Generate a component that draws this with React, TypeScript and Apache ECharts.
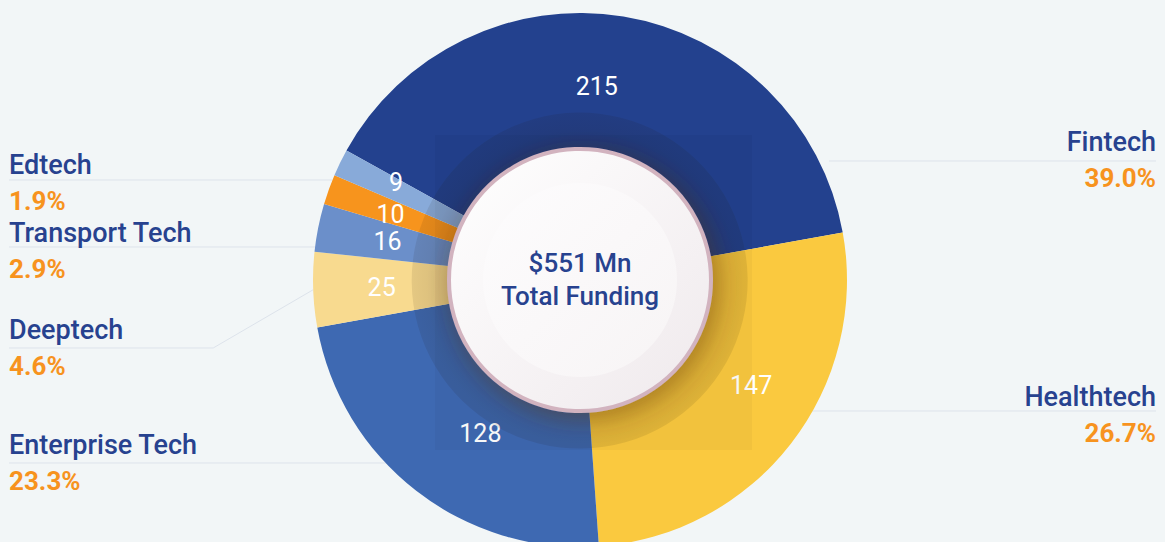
import React, { useEffect, useRef } from 'react';
import * as echarts from 'echarts';

// ---- data ----
const CATEGORIES = ['Fintech', 'Healthtech', 'Enterprise Tech', 'Deeptech', 'Transport Tech', 'Others', 'Edtech'];
const VALUES = [215, 147, 128, 25, 16, 10, 9];
const PERCENT_LABELS = ['39.0%', '26.7%', '23.3%', '4.6%', '2.9%', '', '1.9%'];
const COLORS = ['#23418e', '#fac93f', '#3e69b2', '#f8da8f', '#6b8fca', '#f7941d', '#88aad9'];
const CENTER_TITLE = '$551 Mn';
const CENTER_SUBTITLE = 'Total Funding';

// ---- layout ----
const W = 1165;
const H = 542;
const CX = 580;
const CY = 280;
const R_OUT = 267;
const R_IN = 130;
const START_ANGLE = 151;
// labelY: middle of the two-line label; lineY: horizontal leader line
const LABEL_LAYOUT: any[] = [
  { labelY: 160, lineY: 161, r: 276 },
  { labelY: 415, lineY: 411, r: 265 },
  { labelY: 463, lineY: 463, r: 204 },
  { labelY: 348, lineY: 348, bend: 100 },
  { labelY: 251, lineY: 247, r: 242 },
  null,
  { labelY: 183, lineY: 180, r: 267 },
];
const VALUE_LABEL_SHIFT = [
  [-16, 5],
  [12, -18],
  [24, -6],
  [3, 0],
  [5, 1],
  [0, 3],
  [-3, -9],
];

export default function App() {
  const ref = useRef<HTMLDivElement>(null);

  useEffect(() => {
    document.body.style.margin = '0';
    if (!ref.current) return;
    const chart = echarts.init(ref.current, undefined, { renderer: 'svg' });

    const data = CATEGORIES.map((name, i) => ({
      name,
      value: VALUES[i],
      itemStyle: { color: COLORS[i] },
    }));

    const labelData = CATEGORIES.map((name, i) => ({
      name,
      value: VALUES[i],
      itemStyle: { color: 'rgba(0,0,0,0)' },
      label: { show: !!LABEL_LAYOUT[i] },
      labelLine: { show: !!LABEL_LAYOUT[i] },
    }));

    const option: any = {
      animation: false,
      backgroundColor: '#f2f6f7',
      series: [
        {
          type: 'pie',
          z: 1,
          silent: true,
          center: [CX, CY],
          radius: [R_IN, R_OUT],
          startAngle: START_ANGLE,
          clockwise: true,
          avoidLabelOverlap: false,
          itemStyle: { borderWidth: 0 },
          label: {
            show: true,
            position: 'outside',
            alignTo: 'edge',
            edgeDistance: 9,
            fontFamily: 'Roboto',
            formatter: (p: any) => `{n|${p.name}}\n{p|${PERCENT_LABELS[p.dataIndex]}}`,
            rich: {
              n: { fontSize: 27, fontWeight: 500, color: '#27428f', lineHeight: 36, fontFamily: 'Roboto' },
              p: { fontSize: 26, fontWeight: 700, color: '#f7931e', lineHeight: 36, fontFamily: 'Roboto' },
            },
          },
          labelLine: {
            show: true,
            length: 10,
            length2: 10,
            lineStyle: { color: '#dde3eb', width: 1 },
          },
          labelLayout: (params: any) => {
            const cfg = LABEL_LAYOUT[params.dataIndex];
            if (!cfg || !params.labelLinePoints) return {};
            const isLeft = params.labelRect.x < CX;
            const pts = params.labelLinePoints;
            const endX = isLeft ? params.labelRect.x : params.labelRect.x + params.labelRect.width;
            let newPts;
            if (cfg.bend != null) {
              newPts = [pts[0], [pts[0][0] + (isLeft ? -cfg.bend : cfg.bend), cfg.lineY], [endX, cfg.lineY]];
            } else {
              const dy = cfg.lineY - CY;
              const dx = Math.sqrt(Math.max(cfg.r * cfg.r - dy * dy, 0));
              const sx = isLeft ? CX - dx : CX + dx;
              newPts = [[sx, cfg.lineY], [sx, cfg.lineY], [endX, cfg.lineY]];
            }
            return { y: cfg.labelY, labelLinePoints: newPts };
          },
          emphasis: { disabled: true },
          data: labelData,
        },
        {
          type: 'pie',
          z: 2,
          silent: true,
          center: [CX, CY],
          radius: [R_IN, R_OUT],
          startAngle: START_ANGLE,
          clockwise: true,
          avoidLabelOverlap: false,
          minShowLabelAngle: 0,
          itemStyle: { borderWidth: 0 },
          label: {
            show: true,
            position: 'inside',
            formatter: '{c}',
            color: '#ffffff',
            fontSize: 25,
            lineHeight: 22,
            fontWeight: 400,
            fontFamily: 'Roboto',
            overflow: 'none',
          },
          labelLayout: (params: any) => {
            const s = VALUE_LABEL_SHIFT[params.dataIndex];
            return { hideOverlap: false, dx: s[0], dy: s[1] };
          },
          labelLine: { show: false },
          emphasis: { disabled: true },
          data,
        },
        {
          type: 'pie',
          z: 3,
          silent: true,
          center: [CX, CY],
          radius: [R_IN, 168],
          startAngle: START_ANGLE,
          label: { show: false },
          labelLine: { show: false },
          emphasis: { disabled: true },
          data: [
            {
              value: 1,
              name: 'shade',
              itemStyle: {
                borderWidth: 0,
                color: new echarts.graphic.RadialGradient(0.5, 0.5, 0.5, [
                  { offset: 0.77, color: 'rgba(30,15,0,0.2)' },
                  { offset: 0.9, color: 'rgba(30,15,0,0.12)' },
                  { offset: 1, color: 'rgba(30,15,0,0.09)' },
                ]),
              },
            },
          ],
        },
      ],
      graphic: [
        {
          type: 'rect',
          z: 5,
          silent: true,
          shape: { x: 435, y: 135, width: 317, height: 315 },
          style: { fill: 'rgba(0,0,0,0.03)' },
        },
        {
          type: 'circle',
          z: 20,
          silent: true,
          shape: { cx: CX, cy: CY, r: 131 },
          style: {
            fill: new echarts.graphic.LinearGradient(0, 0, 1, 1, [
              { offset: 0, color: '#ffffff' },
              { offset: 1, color: '#efe9ec' },
            ]),
            stroke: '#d2b3bf',
            lineWidth: 4,
            shadowBlur: 22,
            shadowColor: 'rgba(120,60,0,0.3)',
            shadowOffsetX: 5,
            shadowOffsetY: 6,
          },
        },
        {
          type: 'circle',
          z: 21,
          silent: true,
          shape: { cx: CX, cy: CY, r: 97 },
          style: {
            fill: new echarts.graphic.LinearGradient(0, 0, 1, 1, [
              { offset: 0, color: '#fdfcfd' },
              { offset: 1, color: '#f7f4f5' },
            ]),
          },
        },
        {
          type: 'text',
          z: 22,
          silent: true,
          style: {
            text: CENTER_TITLE,
            x: CX,
            y: 263,
            align: 'center',
            verticalAlign: 'middle',
            fill: '#27428f',
            fontSize: 26,
            fontWeight: 500,
            fontFamily: 'Roboto',
          },
        },
        {
          type: 'text',
          z: 22,
          silent: true,
          style: {
            text: CENTER_SUBTITLE,
            x: CX,
            y: 296,
            align: 'center',
            verticalAlign: 'middle',
            fill: '#27428f',
            fontSize: 26,
            fontWeight: 500,
            fontFamily: 'Roboto',
          },
        },
      ],
    };

    chart.setOption(option);
    return () => chart.dispose();
  }, []);

  return <div ref={ref} style={{ width: W, height: H, background: '#f2f6f7' }} />;
}
